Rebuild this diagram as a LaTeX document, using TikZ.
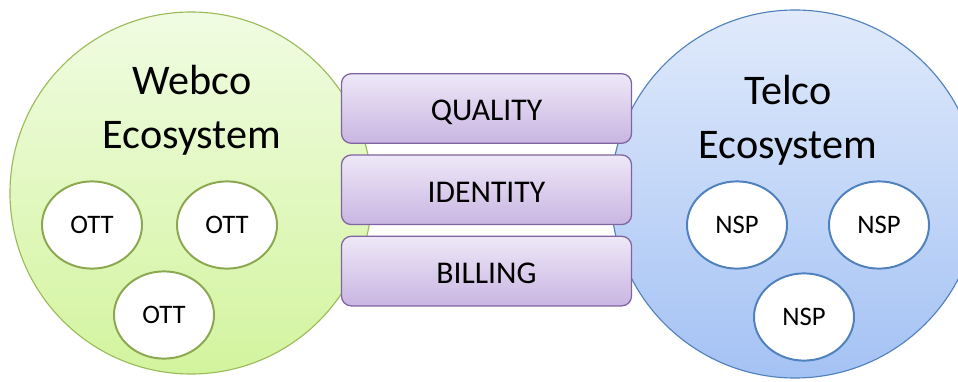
\documentclass[tikz,border=0pt]{standalone}
\usepackage{fontspec}
\setmainfont{Carlito}
\usepackage{tikz}
\usetikzlibrary{positioning}
\usetikzlibrary{shapes}

\definecolor{webcotop}{HTML}{F0FCE2}
\definecolor{webcobot}{HTML}{D3F49E}
\definecolor{webcoline}{HTML}{9BBB59}
\definecolor{telcotop}{HTML}{E0EAFB}
\definecolor{telcobot}{HTML}{A4C2F4}
\definecolor{telcoline}{HTML}{4F81BD}
\definecolor{layertop}{HTML}{EEE8F7}
\definecolor{layerbot}{HTML}{C9B5E2}
\definecolor{layerline}{HTML}{8064A2}

\begin{document}
\begin{tikzpicture}[x=0.025cm, y=-0.025cm,
        ecotext/.style={font=\fontsize{30}{38.4}\selectfont, align=center, anchor=base},
        member/.style={ellipse, fill=white, line width=1.4pt, inner sep=0pt,
            minimum width=2.5cm, minimum height=2.18cm,
            font=\fontsize{19}{22}\selectfont},
        ottnode/.style={member, draw=webcoline!90!black},
        nspnode/.style={member, draw=telcoline},
        layerbox/.style={draw=layerline, line width=0.9pt, rounded corners=7pt,
            top color=layertop, bottom color=layerbot,
            minimum width=7.25cm, minimum height=1.74cm,
            text height=17.6pt, text depth=0pt,
            font=\fontsize{22.5}{26}\selectfont}]
    \useasboundingbox (0,0) rectangle (958,381);
    \clip (0,0) rectangle (958,381);
        % ecosystems
        \draw[webcoline, line width=0.8pt, top color=webcotop, bottom color=webcobot]
            (191, 193) circle (181);
        \draw[telcoline, line width=0.8pt, top color=telcotop, bottom color=telcobot]
            (795, 194) circle (184);
        \node[ecotext] (webco) at (192, 148) {Webco\\Ecosystem};
        \node[ecotext] (telco) at (788, 158) {Telco\\Ecosystem};
        % members
        \node[ottnode] (ott1) at ( 92, 225) {OTT};
        \node[ottnode] (ott2) at (227, 225) {OTT};
        \node[ottnode] (ott3) at (164, 315) {OTT};
        \node[nspnode] (nsp1) at (737, 225) {NSP};
        \node[nspnode] (nsp2) at (879, 225) {NSP};
        \node[nspnode] (nsp3) at (804, 317) {NSP};
        % shared layers
        \node[layerbox] (quality) at (486.5, 108.5) {QUALITY};
        \node[layerbox, below=0.26cm of quality] (identity) {IDENTITY};
        \node[layerbox, below=0.26cm of identity] (billing) {BILLING};
\end{tikzpicture}
\end{document}
